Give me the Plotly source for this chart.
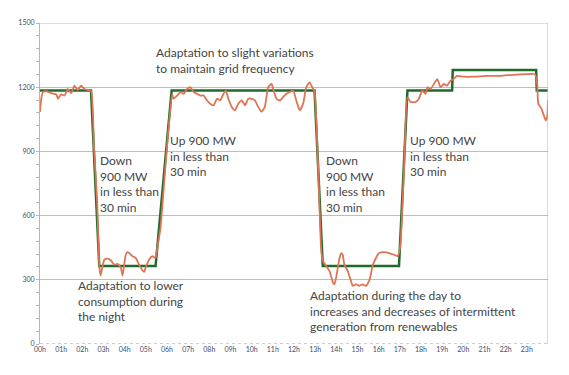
import plotly.graph_objects as go

# ---------------- data ----------------
hour_labels = [f"{h:02d}h" for h in range(24)]
hour_ticks = list(range(24))

y_ticks = [0, 300, 600, 900, 1200, 1500]

# scheduled generation (green, step-like)
plan_h = [0, 2.41, 2.8, 5.46, 6.22, 12.97, 13.36, 16.96, 17.36, 19.47, 19.5, 23.44, 23.47, 24]
plan_mw = [1185, 1185, 364, 364, 1185, 1185, 364, 364, 1185, 1185, 1280, 1280, 1185, 1185]

# actual output (red)
actual_h = [0, 0.06, 0.14, 0.3, 0.53, 0.77, 0.85, 1.0, 1.16, 1.31, 1.47, 1.63, 1.78, 1.94, 2.1, 2.25, 2.41,
            2.55, 2.7, 2.8, 2.86, 2.96, 3.04, 3.19, 3.35, 3.51, 3.66, 3.82, 3.9, 3.98, 4.05, 4.13, 4.21,
            4.37, 4.52, 4.68, 4.84, 4.92, 4.99, 5.15, 5.31, 5.46, 5.54, 5.69, 5.95, 6.24,
            6.31, 6.48, 6.64, 6.79, 6.95, 7.1, 7.26, 7.42, 7.57, 7.73, 7.89, 8.04, 8.2, 8.36, 8.51,
            8.67, 8.78, 8.9, 9.06, 9.21, 9.37, 9.53, 9.69, 9.84, 10.0, 10.15, 10.31, 10.47, 10.62,
            10.78, 10.94, 11.02, 11.17, 11.33, 11.49, 11.64, 11.8, 11.96, 12.11, 12.27, 12.43, 12.58,
            12.74, 12.9, 12.97, 13.15, 13.29, 13.37, 13.52, 13.68, 13.84, 13.91, 13.99, 14.07, 14.15,
            14.23, 14.3, 14.38, 14.54, 14.69, 14.77, 14.93, 15.08, 15.24, 15.4, 15.55, 15.63, 15.71,
            15.87, 16.02, 16.26, 16.49, 16.73, 16.89, 16.96, 17.04, 17.2, 17.36, 17.51, 17.75, 17.9,
            18.06, 18.22, 18.3, 18.45, 18.61, 18.77, 18.92, 19.08, 19.23, 19.39, 19.54, 19.7, 20.01,
            20.48, 21.11, 21.74, 22.36, 22.99, 23.38, 23.49, 23.54, 23.69, 23.8, 23.9, 23.96, 24.0]
actual_mw = [1085, 1146, 1177, 1181, 1172, 1166, 1146, 1166, 1161, 1192, 1172, 1207, 1187, 1207, 1192, 1187, 1184,
             925, 663, 371, 320, 364, 394, 399, 390, 371, 374, 356, 320, 371, 417, 429, 425,
             410, 402, 371, 344, 337, 356, 394, 410, 402, 448, 540, 860, 1169,
             1146, 1161, 1177, 1169, 1192, 1200, 1177, 1169, 1161, 1161, 1138, 1123, 1115, 1146, 1138,
             1169, 1184, 1146, 1108, 1092, 1123, 1138, 1115, 1146, 1146, 1138, 1108, 1085, 1108,
             1200, 1215, 1192, 1146, 1138, 1154, 1169, 1177, 1184, 1138, 1092, 1123, 1200,
             1223, 1192, 1180, 800, 433, 387, 364, 341, 287, 279, 310, 356, 402,
             425, 417, 371, 341, 295, 272, 279, 272, 279, 272, 295, 325, 364,
             402, 425, 429, 425, 417, 410, 425, 479, 820, 1154, 1131, 1131, 1146,
             1184, 1169, 1200, 1192, 1215, 1238, 1200, 1215, 1207, 1230, 1238, 1253, 1249,
             1249, 1253, 1253, 1258, 1261, 1261, 1215, 1123, 1100, 1069, 1045, 1060, 1140, 1180]

# ---------------- figure ----------------
fig = go.Figure()
fig.add_trace(go.Scatter(x=plan_h, y=plan_mw, mode="lines",
                         line=dict(color="#1f6b2c", width=2.5), hoverinfo="skip"))
fig.add_trace(go.Scatter(x=actual_h, y=actual_mw, mode="lines",
                         line=dict(color="#dd7454", width=1.8, shape="spline", smoothing=0.5),
                         hoverinfo="skip"))

txt_font = dict(family="Lato, 'Open Sans', sans-serif", size=12, color="#444444")
annots = [
    (5.63, 1383, "Adaptation to slight variations<br>to maintain grid frequency"),
    (2.96, 879, "Down<br>900 MW<br>in less than<br>30 min"),
    (6.29, 971, "Up 900 MW<br>in less than<br>30 min"),
    (13.66, 879, "Down<br>900 MW<br>in less than<br>30 min"),
    (17.6, 971, "Up 900 MW<br>in less than<br>30 min"),
    (1.92, 295, "Adaptation to lower<br>consumption during<br>the night"),
    (12.91, 249, "Adaptation during the day to<br>increases and decreases of intermittent<br>generation from renewables"),
]
for ax, ay, t in annots:
    fig.add_annotation(x=ax, y=ay, text=t, showarrow=False, xanchor="left", yanchor="top",
                       align="left", font=txt_font, borderpad=0, xshift=-4, yshift=4)

# frame pieces: right border, top line and dashed baseline
fig.add_shape(type="line", xref="x", yref="y", x0=24, x1=24, y0=0, y1=1500,
              line=dict(color="#b5b5b5", width=1))
fig.add_shape(type="line", xref="x", yref="y", x0=0, x1=24, y0=1500, y1=1500,
              line=dict(color="#bdbdbd", width=1))
fig.add_shape(type="line", xref="x", yref="y", x0=0, x1=24, y0=0, y1=0,
              line=dict(color="#9a9a9a", width=1, dash="dot"))

fig.update_layout(
    width=561, height=367,
    margin=dict(l=29, r=21, t=10, b=31),
    paper_bgcolor="white", plot_bgcolor="white",
    showlegend=False,
    xaxis=dict(range=[0, 24], tickmode="array", tickvals=hour_ticks, ticktext=hour_labels,
               showgrid=False, zeroline=False, showline=False,
               ticks="", tickfont=dict(family="Lato, sans-serif", size=7, color="#3d4d70")),
    yaxis=dict(range=[0, 1500], tickmode="array", tickvals=y_ticks,
               showgrid=True, gridcolor="#bdbdbd", gridwidth=1, zeroline=False,
               showline=True, linecolor="#b5b5b5", linewidth=1,
               ticks="outside", ticklen=3, tickcolor="#b5b5b5",
               minor=dict(dtick=60, ticks="outside", ticklen=3, tickcolor="#b5b5b5", showgrid=False),
               tickfont=dict(family="Lato, sans-serif", size=7, color="#3d4d70")),
)

fig.write_html("out.html")
